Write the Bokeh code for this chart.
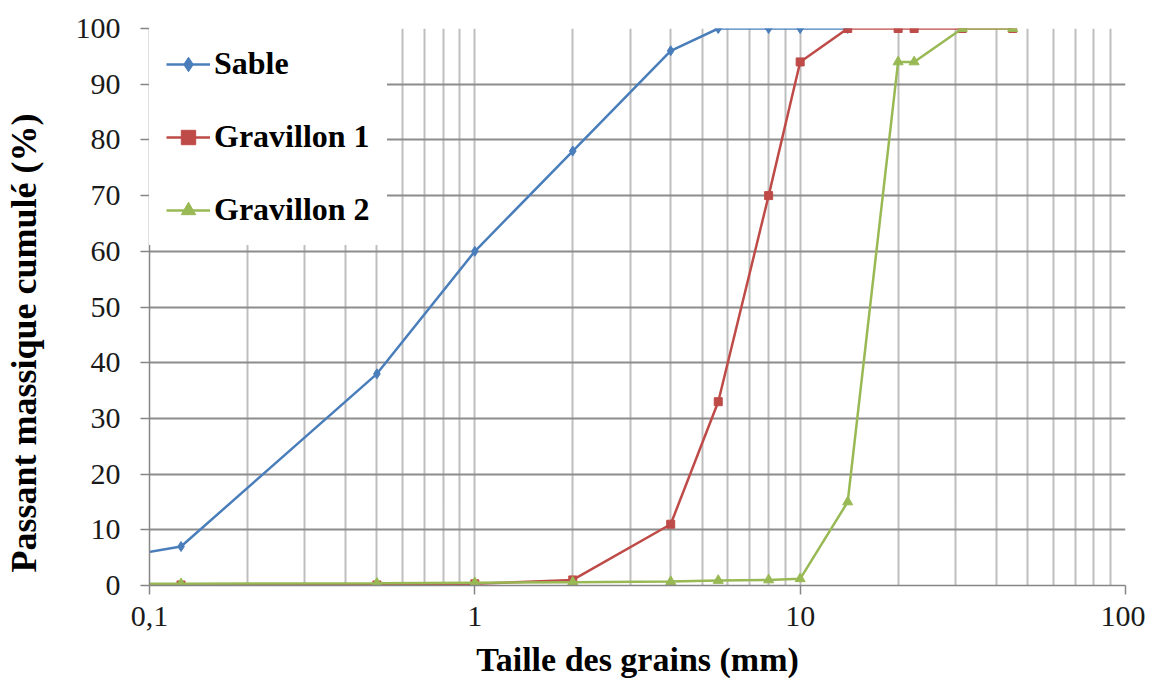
from bokeh.plotting import figure
from bokeh.models import FixedTicker, Legend, LegendItem, Range1d
from bokeh.embed import file_html
from bokeh.resources import INLINE

# Sieve sizes (mm)
sizes = [0.063, 0.125, 0.5, 1, 2, 4, 5.6, 8, 10, 14, 20, 22.4, 31.5, 45]
sable_sizes = sizes[:10]
sable = [4, 7, 38, 60, 78, 96, 100, 100, 100, 100]
gravillon1 = [0, 0.1, 0.1, 0.3, 1, 11, 33, 70, 94, 100, 100, 100, 100, 100]
gravillon2 = [0.3, 0.3, 0.4, 0.5, 0.6, 0.7, 0.9, 1.0, 1.2, 15, 94, 94, 100, 100]

x_ticks = [0.1, 1, 10, 100]
x_tick_labels = ["0,1", "1", "10", "100"]
x_minor = [m * d for d in [0.1, 1, 10] for m in range(2, 10)]
y_ticks = list(range(0, 101, 10))
x_title = "Taille des grains (mm)"
y_title = "Passant massique cumulé (%)"

FONT = "Liberation Serif"
BLUE = "#4A7EBB"
RED = "#BE4B48"
GREEN = "#98B954"

p = figure(width=1145, height=681, x_axis_type="log",
           x_range=Range1d(0.1, 100), y_range=Range1d(0, 100),
           output_backend="svg", toolbar_location=None,
           min_border_left=149, min_border_right=20,
           min_border_top=28, min_border_bottom=96)
p.outline_line_color = None
p.background_fill_color = "white"

# axes
p.xaxis.ticker = FixedTicker(ticks=x_ticks, minor_ticks=x_minor)
p.xaxis.major_label_overrides = {t: l for t, l in zip(x_ticks, x_tick_labels)}
p.yaxis.ticker = FixedTicker(ticks=y_ticks)
for ax in (p.xaxis, p.yaxis):
    ax.axis_line_color = "#868686"
    ax.axis_line_width = 1.5
    ax.major_tick_line_color = "#868686"
    ax.major_tick_line_width = 1.5
    ax.major_tick_in = 0
    ax.major_tick_out = 9
    ax.minor_tick_line_color = None
    ax.major_label_text_font = FONT
    ax.major_label_text_font_size = "30px"
    ax.major_label_text_color = "#1a1a1a"
    ax.axis_label_text_font = FONT
    ax.axis_label_text_font_style = "bold"
    ax.axis_label_text_color = "black"

p.xaxis.major_label_standoff = 12
p.yaxis.major_label_standoff = 20

p.xaxis.axis_label = x_title
p.xaxis.axis_label_text_font_size = "34px"
p.xaxis.axis_label_standoff = 12

# y title: trailing no-break spaces push the visible text down so that it
# sits centred on the whole chart, as in the original
p.yaxis.axis_label = y_title + "\u00a0" * 8
p.yaxis.axis_label_text_font_size = "36px"
p.yaxis.axis_label_standoff = 29

# grid
p.ygrid.grid_line_color = "#8C8C8C"
p.ygrid.grid_line_width = 2
p.xgrid.grid_line_color = "#BEBEBE"
p.xgrid.grid_line_width = 2
p.xgrid.minor_grid_line_color = "#BEBEBE"
p.xgrid.minor_grid_line_width = 2

# series
l1 = p.line(sable_sizes, sable, line_color=BLUE, line_width=2.5)
m1 = p.scatter(sable_sizes, sable, marker="diamond", size=10, color=BLUE)
l2 = p.line(sizes, gravillon1, line_color=RED, line_width=2.5)
m2 = p.scatter(sizes, gravillon1, marker="square", size=8, color=RED)
l3 = p.line(sizes, gravillon2, line_color=GREEN, line_width=2.5)
m3 = p.scatter(sizes, gravillon2, marker="triangle", size=10, color=GREEN)

legend = Legend(items=[
    LegendItem(label="Sable", renderers=[l1, m1]),
    LegendItem(label="Gravillon 1", renderers=[l2, m2]),
    LegendItem(label="Gravillon 2", renderers=[l3, m3]),
], location="top_left")
legend.margin = 0
legend.padding = 16
legend.border_line_color = "white"
legend.border_line_width = 1
legend.background_fill_color = "white"
legend.background_fill_alpha = 1
legend.label_text_font = FONT
legend.label_text_font_style = "bold"
legend.label_text_font_size = "32px"
legend.label_text_color = "black"
legend.glyph_width = 44
legend.glyph_height = 36
legend.label_height = 36
legend.label_standoff = 4
legend.spacing = 36
p.add_layout(legend)

open("out.html", "w").write(file_html(p, INLINE))
